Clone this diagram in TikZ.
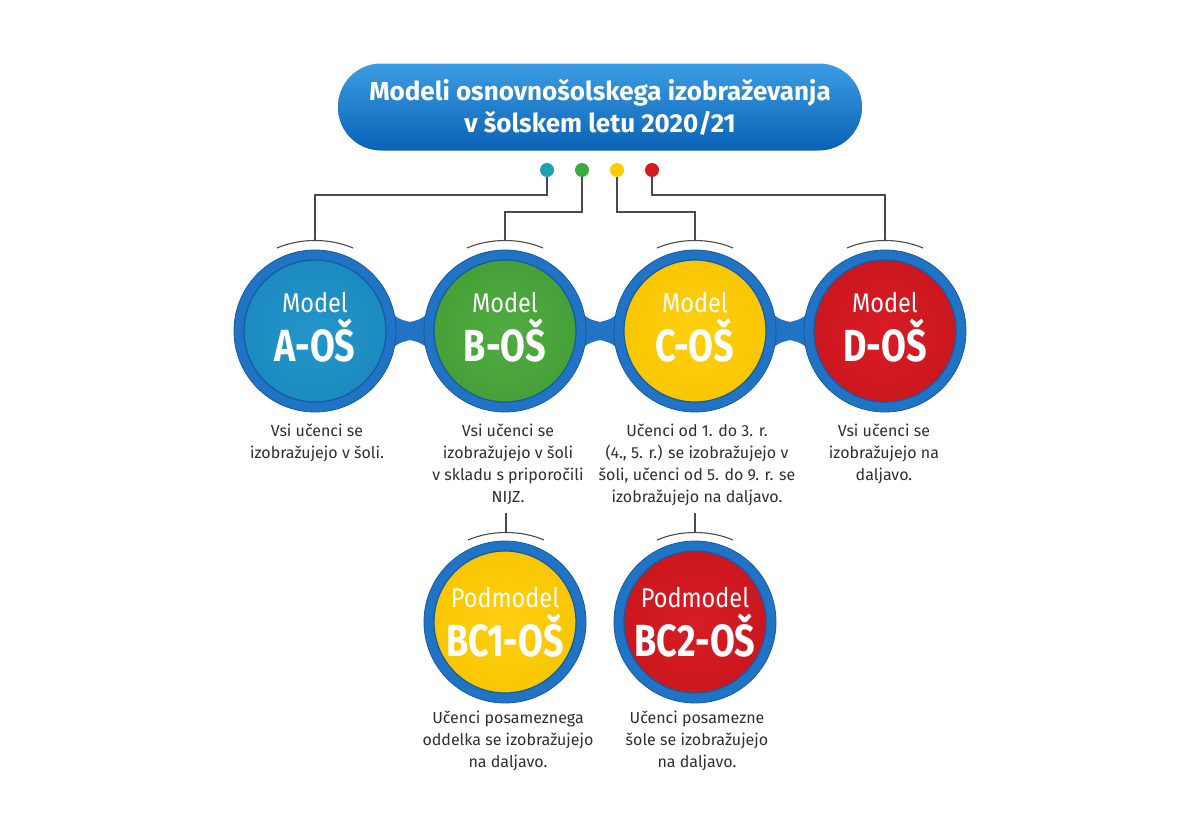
\documentclass[tikz,border=0pt]{standalone}
\usepackage{fontspec}
\setmainfont{Fira Sans}
\newfontfamily\condbold{Fira Sans}[FakeStretch=0.8]
\newfontfamily\condreg{Fira Sans}[FakeStretch=0.87]
\usetikzlibrary{calc}
\definecolor{ringblue}{HTML}{2173C5}
\definecolor{ringdark}{HTML}{145BA0}
\definecolor{cAl}{HTML}{2496CA}\definecolor{cAm}{HTML}{1A88BE}\definecolor{cAd}{HTML}{0C6592}
\definecolor{cBl}{HTML}{50AC40}\definecolor{cBm}{HTML}{449E36}\definecolor{cBd}{HTML}{2A7424}
\definecolor{cCl}{HTML}{FFD010}\definecolor{cCm}{HTML}{F7C400}\definecolor{cCd}{HTML}{D89A00}
\definecolor{cDl}{HTML}{D81C24}\definecolor{cDm}{HTML}{CA161E}\definecolor{cDd}{HTML}{960C12}
\definecolor{dA}{HTML}{1BA3B5}\definecolor{dB}{HTML}{3DAA3F}
\definecolor{dC}{HTML}{FFCC00}\definecolor{dD}{HTML}{D71920}
\definecolor{linegray}{HTML}{4A4A4A}
\definecolor{textgray}{HTML}{2E2E2E}
\definecolor{titletop}{HTML}{3C9DE3}\definecolor{titlebot}{HTML}{0A62B5}
\colorlet{discl}{white}\colorlet{discm}{gray}\colorlet{discd}{black}
\pgfdeclareradialshading[discl,discm,discd]{discshade}{\pgfpoint{0bp}{0bp}}{color(0bp)=(discl); color(30bp)=(discm); color(44bp)=(discm); color(50bp)=(discd)}
\tikzset{
  ring/.style={circle, minimum size=162pt, inner sep=0pt, fill=ringblue, draw=ringdark, line width=0.8pt},
  disc/.style n args={3}{circle, minimum size=142pt, inner sep=0pt,
     /utils/exec={\colorlet{discl}{#1}\colorlet{discm}{#2}\colorlet{discd}{#3}},
     shade, shading=discshade, draw=ringdark, line width=1.2pt},
  circtext/.style={align=center, text=white, inner sep=0pt},
  smalltxt/.style={circtext, font=\condreg\fontsize{27}{27}\selectfont, anchor=base},
  bigtxt/.style={circtext, font=\condbold\fontsize{45}{45}\selectfont\bfseries, anchor=base},
  desc/.style={align=center, text=textgray, anchor=north, inner sep=0pt, font=\fontsize{16}{22}\selectfont},
  dotnode/.style={circle, minimum size=14pt, inner sep=0pt, fill=#1},
  conn/.style={draw=linegray, line width=1.1pt},
  neck/.style={fill=ringblue},
}
\begin{document}
\begin{tikzpicture}[x=1pt, y=-1pt]
\useasboundingbox (0,0) rectangle (1200,814);
% title
\node[rounded corners=43pt, minimum width=524pt, minimum height=87pt, top color=titletop, bottom color=titlebot, text=white, align=center, font=\fontsize{26}{32}\selectfont\bfseries] (T) at (600,107) {Modeli osnovnošolskega izobraževanja\\v šolskem letu 2020/21};
% dots
\node[dotnode=dA] (pA) at (547,170) {};
\node[dotnode=dB] (pB) at (582,170) {};
\node[dotnode=dC] (pC) at (617,170) {};
\node[dotnode=dD] (pD) at (652,170) {};
% necks
\foreach \m in {410,600,790}{
  \fill[neck] (\m-30,303) .. controls (\m-12,319) .. (\m,322) .. controls (\m+12,319) .. (\m+30,303)
    -- (\m+30,359) .. controls (\m+12,343) .. (\m,340) .. controls (\m-12,343) .. (\m-30,359) -- cycle;
}
% main circles
\node[ring] (A) at (315,331) {};
\node[ring] (B) at (505,331) {};
\node[ring] (C) at (695,331) {};
\node[ring] (D) at (885,331) {};
\node[disc={cAl}{cAm}{cAd}] (Ai) at (A) {};
\node[disc={cBl}{cBm}{cBd}] (Bi) at (B) {};
\node[disc={cCl}{cCm}{cCd}] (Ci) at (C) {};
\node[disc={cDl}{cDm}{cDd}] (Di) at (D) {};
\foreach \n/\l in {A/A,B/B,C/C,D/D}{
  \node[smalltxt] (\n m) at ($(\n)+(0,-19)$) {Model};
  \node[bigtxt] (\n t) at ($(\n)+(0,30)$) {\l-OŠ};
}
% sub circles
\node[ring] (E) at (505,622) {};
\node[ring] (F) at (695,622) {};
\node[disc={cCl}{cCm}{cCd}] (Ei) at (E) {};
\node[disc={cDl}{cDm}{cDd}] (Fi) at (F) {};
\node[smalltxt] (Em) at ($(E)+(0,-15)$) {Podmodel};
\node[bigtxt] (Et) at ($(E)+(0,34)$) {BC1-OŠ};
\node[smalltxt] (Fm) at ($(F)+(0,-15)$) {Podmodel};
\node[bigtxt] (Ft) at ($(F)+(0,34)$) {BC2-OŠ};
% arcs above circles
\foreach \n/\x/\y in {A/315/240,B/505/240,C/695/240,D/885/240,E/506/532,F/695/532}{
  \coordinate (top\n) at (\x,\y);
  \draw[conn] (\x-38,\y+8) .. controls (\x-15,\y-2) and (\x+15,\y-2) .. (\x+38,\y+8);
}
% connectors
\coordinate (kA) at (315,195);
\coordinate (kB) at (505,212);
\coordinate (kC) at (695,212);
\coordinate (kD) at (885,195);
\draw[conn] (pA.south) |- (kA) -- (topA);
\draw[conn] (pB.south) |- (kB) -- (topB);
\draw[conn] (pC.south) |- (kC) -- (topC);
\draw[conn] (pD.south) |- (kD) -- (topD);
\coordinate (sE) at (506,513);
\coordinate (sF) at (695,513);
\draw[conn] (sE) -- (topE);
\draw[conn] (sF) -- (topF);
% descriptions
\node[desc] (dsA) at (317,424) {Vsi učenci se\\izobražujejo v šoli.};
\node[desc] (dsB) at (508,424) {Vsi učenci se\\izobražujejo v šoli\\v skladu s priporočili\\NIJZ.};
\node[desc] (dsC) at (697,424) {Učenci od 1. do 3. r.\\(4., 5. r.) se izobražujejo v\\šoli, učenci od 5. do 9. r. se\\izobražujejo na daljavo.};
\node[desc] (dsD) at (884,424) {Vsi učenci se\\izobražujejo na\\daljavo.};
\node[desc] (dsE) at (508,711) {Učenci posameznega\\oddelka se izobražujejo\\na daljavo.};
\node[desc] (dsF) at (697,711) {Učenci posamezne\\šole se izobražujejo\\na daljavo.};
\end{tikzpicture}
\end{document}
